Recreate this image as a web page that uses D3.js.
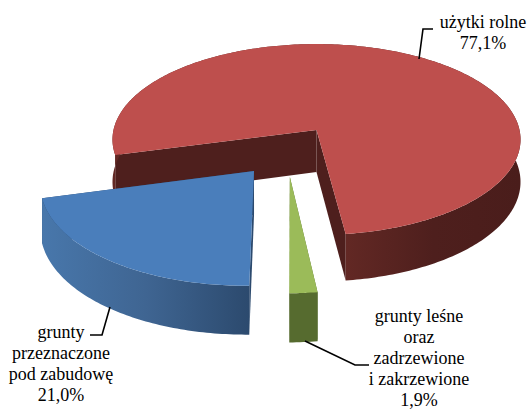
<!DOCTYPE html>
<html>
<head>
<meta charset="utf-8" />
<script src="https://d3js.org/d3.v7.min.js"></script>
<style>
  body { margin: 0; background: #fff; }
  svg { display: block; }
  text { font-family: "Liberation Serif", serif; font-size: 18px; fill: #000; text-anchor: middle; }
</style>
</head>
<body>
<div id="chart"></div>
<script>
// data
var categories = ["użytki rolne", "grunty leśne oraz zadrzewione i zakrzewione", "grunty przeznaczone pod zabudowę"];
var values = [77.1, 1.9, 21.0];

// wrapped label lines, the value goes on the last line
var labelLines = [
  ["użytki rolne"],
  ["grunty leśne", "oraz", "zadrzewione", "i zakrzewione"],
  ["grunty", "przeznaczone", "pod zabudowę"]
];

// styles
var topColors = ["#be4f4d", "#9bbb59", "#4a7ebb"];
var cutColors = ["#4e1f1d", "#566b2f", "#2c4a6e"];
var wallStops = [["#4a1d1b", "#4e1f1d", "#622824"], ["#566b2f", "#566b2f", "#566b2f"], ["#4877ab", "#3f6592", "#2c4a6e"]];

// pulled out slices, in pie plane units
var explodeX = [0, -0.125, -0.295];
var explodeY = [0, 0.474, 0.416];

var labelX = [483, 419, 61];
var labelY = [28, 322, 338];
var leaders = [
  [[419, 59], [423, 29], [433, 29]],
  [[305, 341], [355, 365], [369, 365]],
  [[110, 307], [102, 335], [90, 335]]
];

var width = 529, height = 410;
var cx = 316.5, cy = 130; // pie centre on the page
var rx = 203, ry = 94.5;  // radii of the tilted disc
var persp = 0.0995;       // things nearer to the viewer get bigger
var depth = 42;           // thickness of the pie
var startDeg = 165;

var svg = d3.select("#chart").append("svg")
  .attr("width", width)
  .attr("height", height);

var defs = svg.append("defs");

// pie plane -> page
function project(x, y, z) {
  var s = 1 / (1 - persp * y);
  return [cx + rx * x * s, cy + (ry * y + z) * s];
}

var pie = d3.pie().sort(null)
  .startAngle(startDeg * Math.PI / 180)
  .endAngle(startDeg * Math.PI / 180 + 2 * Math.PI);

var line = d3.line();

pie(values).forEach(function (d, i) {
  var ex = explodeX[i], ey = explodeY[i];
  var n = Math.max(4, Math.ceil((d.endAngle - d.startAngle) * 60));
  var angles = d3.range(n + 1).map(function (k) {
    return d.startAngle + (d.endAngle - d.startAngle) * k / n;
  });

  function rim(z) {
    return angles.map(function (a) {
      return project(ex + Math.cos(a), ey + Math.sin(a), z);
    });
  }
  var apex = project(ex, ey, 0);
  var apexLow = project(ex, ey, depth);
  var rimTop = rim(0);
  var rimLow = rim(depth);
  var g = svg.append("g");

  // cut faces
  [[rimTop[0], rimLow[0]], [rimTop[n], rimLow[n]]].forEach(function (e) {
    g.append("path")
      .attr("d", line([apex, e[0], e[1], apexLow]) + "Z")
      .attr("fill", cutColors[i]);
  });

  // outer wall with a soft horizontal shade
  var xs = d3.extent(rimTop, function (p) { return p[0]; });
  var gradId = "wall" + i;
  var grad = defs.append("linearGradient")
    .attr("id", gradId)
    .attr("gradientUnits", "userSpaceOnUse")
    .attr("x1", i === 0 ? xs[1] : xs[0]).attr("y1", 0)
    .attr("x2", i === 0 ? cx + 30 : xs[1]).attr("y2", 0);
  wallStops[i].forEach(function (c, k) {
    grad.append("stop").attr("offset", k / 2).attr("stop-color", c);
  });
  g.append("path")
    .attr("d", line(rimTop.concat(rimLow.slice().reverse())) + "Z")
    .attr("fill", "url(#" + gradId + ")");

  // top face
  g.append("path")
    .attr("d", line([apex].concat(rimTop)) + "Z")
    .attr("fill", topColors[i]);
});

// leader lines
svg.append("g").selectAll("path")
  .data(leaders)
  .enter().append("path")
  .attr("d", function (d) { return line(d); })
  .attr("fill", "none")
  .attr("stroke", "#000")
  .attr("stroke-width", 1.6);

// labels
var fmt = function (v) { return d3.format(".1f")(v).replace(".", ",") + "%"; };
var step = 21;
categories.forEach(function (c, i) {
  var lines = labelLines[i].concat([fmt(values[i])]);
  svg.append("text")
    .attr("data-category", c)
    .selectAll("tspan")
    .data(lines)
    .enter().append("tspan")
    .attr("x", labelX[i])
    .attr("y", function (t, k) { return labelY[i] + k * step; })
    .text(function (t) { return t; });
});
</script>
</body>
</html>
